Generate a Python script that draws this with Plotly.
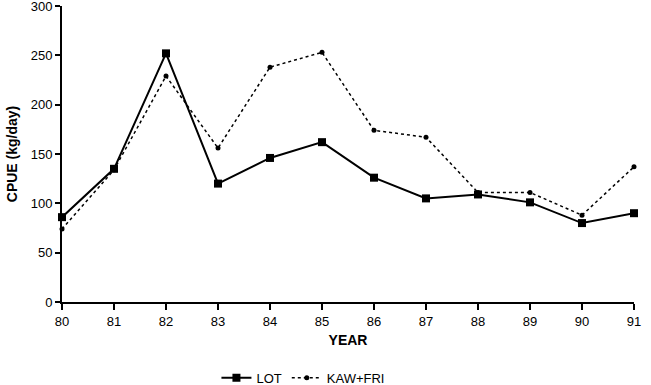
import plotly.graph_objects as go

years = [80, 81, 82, 83, 84, 85, 86, 87, 88, 89, 90, 91]
lot = [86, 135, 252, 120, 146, 162, 126, 105, 109, 101, 80, 90]
kaw_fri = [74, 134, 229, 156, 238, 253, 174, 167, 111, 111, 88, 137]
y_ticks = [0, 50, 100, 150, 200, 250, 300]

fig = go.Figure()
fig.add_trace(go.Scatter(
    x=years, y=lot, name="LOT", mode="lines+markers",
    line=dict(color="black", width=2),
    marker=dict(symbol="square", size=8, color="black"),
    cliponaxis=False,
))
fig.add_trace(go.Scatter(
    x=years, y=kaw_fri, name="KAW+FRI", mode="lines+markers",
    line=dict(color="black", width=1.5, dash="dot"),
    marker=dict(symbol="circle", size=5, color="black"),
    cliponaxis=False,
))

font = "Liberation Sans, Arial, sans-serif"
fig.update_layout(
    width=651, height=385,
    margin=dict(l=62, r=17, t=6, b=83, autoexpand=False),
    paper_bgcolor="white", plot_bgcolor="white",
    font=dict(family=font, size=13, color="black"),
    showlegend=True,
    legend=dict(orientation="h", x=0.27, xanchor="left", y=-0.205, yanchor="top",
                font=dict(size=13), itemwidth=30, tracegroupgap=0),
    xaxis=dict(
        range=[80, 91], tickvals=years, ticktext=[str(v) for v in years],
        automargin=False,
        showgrid=False, zeroline=False, showline=True, linecolor="black", linewidth=2,
        ticks="outside", ticklen=6, tickwidth=1.5, tickcolor="black",
        ticklabeloverflow="allow",
        title=dict(text="<b>YEAR</b>", font=dict(size=14), standoff=8),
    ),
    yaxis=dict(
        range=[0, 300], tickvals=y_ticks,
        automargin=False,
        showgrid=False, zeroline=False, showline=True, linecolor="black", linewidth=2,
        ticks="outside", ticklen=5, tickwidth=1.5, tickcolor="black",
        ticklabeloverflow="allow",
        title=dict(text="<b>CPUE (kg/day)</b>", font=dict(size=14), standoff=10),
    ),
)

fig.write_html(
    "out.html",
    config={"displayModeBar": False},
    post_script="document.body.style.margin='0';document.body.style.overflow='hidden';",
)
